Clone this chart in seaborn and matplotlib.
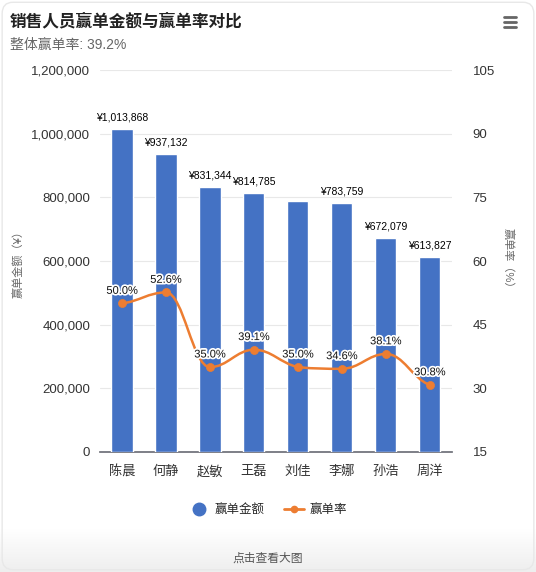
import numpy as np
import pandas as pd
import matplotlib
matplotlib.use("Agg")
import matplotlib.pyplot as plt
import seaborn as sns
from matplotlib.path import Path
from matplotlib.patches import PathPatch, FancyBboxPatch
from matplotlib.lines import Line2D
import matplotlib.patheffects as pe

names = ["陈晨", "何静", "赵敏", "王磊", "刘佳", "李娜", "孙浩", "周洋"]
amounts = [1013868, 937132, 831344, 814785, 790000, 783759, 672079, 613827]
# label of 刘佳 is hidden in the reference (overlaps 李娜's label)
amount_labels = ["¥1,013,868", "¥937,132", "¥831,344", "¥814,785", "", "¥783,759", "¥672,079", "¥613,827"]
rates = [50.0, 52.6, 35.0, 39.1, 35.0, 34.6, 38.1, 30.8]
left_ticks = [0, 200000, 400000, 600000, 800000, 1000000, 1200000]
right_ticks = [15, 30, 45, 60, 75, 90, 105]

sns.set_theme(style="white")
plt.rcParams['font.family'] = ['Liberation Sans', 'Noto Sans CJK SC', 'DejaVu Sans']

BAR = "#4472C4"
LINE = "#ED7D31"

fig = plt.figure(figsize=(5.36, 5.72), dpi=100)
fig.patch.set_facecolor("white")

# bottom gradient band
gax = fig.add_axes([0, 0, 1, 0.075])
grad = np.linspace(1, 0, 50).reshape(-1, 1)
gax.imshow(grad, aspect="auto",
           cmap=matplotlib.colors.LinearSegmentedColormap.from_list("g", ["#eeeeee", "#ffffff"]),
           extent=[0, 1, 0, 1])
gax.axis("off")
fig.text(0.5, 0.024, "点击查看大图", ha="center", va="center", fontsize=8.5, color="#555555")

# card border
fig.add_artist(FancyBboxPatch((0.004, 0.004), 0.992, 0.992, boxstyle="round,pad=0,rounding_size=0.02",
                              transform=fig.transFigure, facecolor="none", edgecolor="#e8e8e8", lw=1))

ax = fig.add_axes([0.1866, 0.2098, 0.6564, 0.6678])
df = pd.DataFrame({"name": names, "amount": amounts})
sns.barplot(data=df, x="name", y="amount", color=BAR, width=0.48, ax=ax, saturation=1, zorder=3)
ax.set_ylim(0, 1200000)
ax.set_yticks(left_ticks)
ax.set_yticklabels([f"{v:,}" for v in left_ticks], fontsize=9.5, color="#333333")
ax.grid(axis="y", color="#e8e8e8", linewidth=0.8, zorder=0)
ax.set_axisbelow(True)
for s in ["top", "right", "left"]:
    ax.spines[s].set_visible(False)
ax.spines["bottom"].set_color("#6e7079")
ax.tick_params(axis="x", labelsize=9.5, colors="#333333", length=0, pad=10)
ax.tick_params(axis="y", length=0, pad=7)
ax.set_xlabel("")
ax.set_ylabel("赢单金额（¥）", fontsize=8, color="#666666", va="center")
ax.yaxis.set_label_coords(-0.233, 0.5)
ax.set_xlim(-0.5, len(names) - 0.5)

for i, (v, lab) in enumerate(zip(amounts, amount_labels)):
    ax.text(i, v + 20000, lab, ha="center", va="bottom", fontsize=7.5, color="#000000", zorder=6)

ax2 = ax.twinx()
ax2.set_ylim(15, 105)
ax2.set_yticks(right_ticks)
ax2.set_yticklabels([str(t) for t in right_ticks], fontsize=9.5, color="#333333")
for s in ["top", "right", "left", "bottom"]:
    ax2.spines[s].set_visible(False)
ax2.tick_params(axis="y", length=0, pad=15)
ax2.set_ylabel("赢单率（%）", fontsize=8, color="#666666", rotation=270, va="center")
ax2.yaxis.set_label_coords(1.16, 0.5)
ax2.grid(False)

# smooth monotone-style bezier curve through the data points
x = np.arange(len(rates), dtype=float)
y = np.array(rates, dtype=float)
n = len(x)
m = np.zeros(n)
for i in range(n):
    if i == 0:
        m[i] = (y[1] - y[0]) * 0.5
    elif i == n - 1:
        m[i] = (y[-1] - y[-2]) * 0.5
    else:
        d0 = y[i] - y[i - 1]
        d1 = y[i + 1] - y[i]
        m[i] = 0.0 if d0 * d1 <= 0 else (y[i + 1] - y[i - 1]) / 2
s = 0.4
verts = [(x[0], y[0])]
codes = [Path.MOVETO]
for i in range(n - 1):
    lo, hi = min(y[i], y[i + 1]), max(y[i], y[i + 1])
    c1y = np.clip(y[i] + s * m[i], lo, hi)
    c2y = np.clip(y[i + 1] - s * m[i + 1], lo, hi)
    verts += [(x[i] + s, c1y), (x[i + 1] - s, c2y), (x[i + 1], y[i + 1])]
    codes += [Path.CURVE4] * 3
ax2.add_patch(PathPatch(Path(verts, codes), facecolor="none", edgecolor=LINE, lw=1.8, zorder=4))
sns.scatterplot(x=x, y=y, color=LINE, s=34, ax=ax2, zorder=5, edgecolor=LINE, legend=False)
for i, r in enumerate(rates):
    ax2.text(i, r + 1.8, f"{r:.1f}%", ha="center", va="bottom", fontsize=8, color="#111111", zorder=6,
             path_effects=[pe.withStroke(linewidth=2.5, foreground="white")])

# legend
handles = [Line2D([], [], marker="o", color=BAR, linestyle="none", markersize=9),
           Line2D([], [], marker="o", color=LINE, linestyle="-", markersize=4.5, lw=2)]
fig.legend(handles, ["赢单金额", "赢单率"], loc="center", bbox_to_anchor=(0.5, 0.108), ncol=2,
           frameon=False, fontsize=9, handlelength=1.6, columnspacing=1.5, handletextpad=0.5)

# title
fig.text(0.019, 0.963, "销售人员赢单金额与赢单率对比", fontsize=12, fontweight="bold", color="#222222", va="center")
fig.text(0.019, 0.922, "整体赢单率: 39.2%", fontsize=10, color="#666666", va="center")
for dy in [0.0, 0.0085, 0.017]:
    fig.add_artist(Line2D([0.94, 0.962], [0.953 + dy, 0.953 + dy], color="#666666", lw=2,
                          solid_capstyle="round", transform=fig.transFigure))

fig.savefig("out.png", dpi=100)
